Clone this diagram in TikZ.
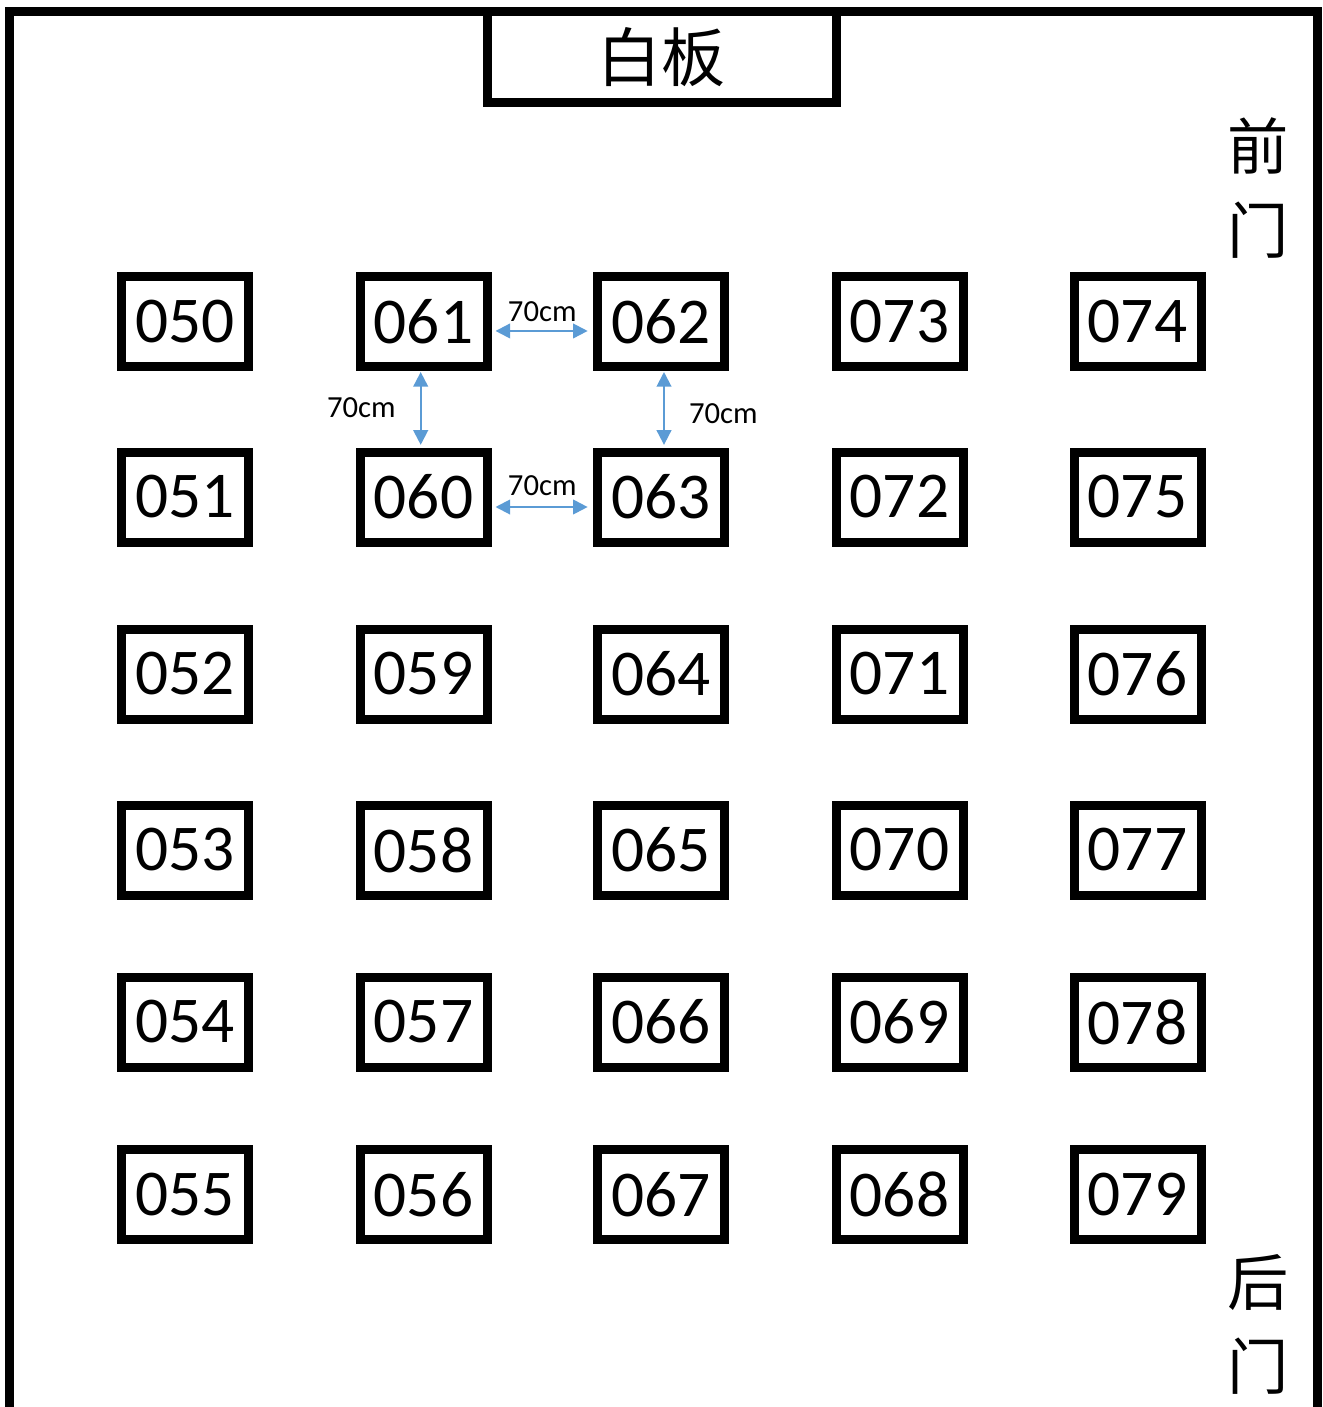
\documentclass[tikz,border=0pt]{standalone}
\usepackage{fontspec}
\setmainfont{Carlito}
\newfontfamily\cjk{Noto Sans CJK SC}
\usetikzlibrary{arrows.meta}
\definecolor{gapblue}{RGB}{91,155,213}

\begin{document}
\begin{tikzpicture}[x=0.75pt,y=-0.75pt,
    wall/.style={line width=6.75pt,line join=miter},
    seat/.style={draw,line width=6.75pt,rectangle,inner sep=0pt,
      minimum width=95.25pt,minimum height=67.5pt,font=\fontsize{49}{49}\selectfont},
    board/.style={draw,line width=6.75pt,rectangle,inner sep=0pt,
      minimum width=262.1pt,minimum height=68.25pt,font=\cjk\fontsize{48}{48}\selectfont},
    door/.style={align=center,inner sep=0pt,font=\cjk\fontsize{46}{63}\selectfont},
    gap/.style={gapblue,line width=1.5pt,{Triangle[length=11pt,width=11pt]}-{Triangle[length=11pt,width=11pt]}},
    gaplabel/.style={inner sep=0pt,black,font=\fontsize{23}{23}\selectfont}]
  \useasboundingbox (0,0) rectangle (1322,1407);

  % classroom walls
  \draw[wall] (9.5,1407) -- (9.5,11.5) -- (1317,11.5) -- (1317,1407);

  % whiteboard and doors
  \node[board] (whiteboard) at (661.75,57) {白板};
  \node[door] (frontdoor) at (1258,188) {前\\门};
  \node[door] (backdoor) at (1258,1324) {后\\门};

  % seats, numbered up and down the columns
  \foreach \x/\first/\dir in {185/50/1, 423.5/61/-1, 661/62/1, 899.5/73/-1, 1137.5/74/1}{
    \foreach \y [count=\r from 0] in {321.5,497,674,850,1022,1194.5}{
      \pgfmathtruncatemacro{\num}{\first+\dir*\r}
      \node[seat] (seat0\num) at (\x,\y) {0\num};
    }
  }

  % spacing between seats
  \draw[gap,shorten <=3pt,shorten >=4pt] ([yshift=-7.1pt]seat061.east) -- ([yshift=-7.1pt]seat062.west)
    node[gaplabel,midway,above=6pt] (gap6162) {70cm};
  \draw[gap,shorten <=3pt,shorten >=4pt] ([yshift=-7.5pt]seat060.east) -- ([yshift=-7.5pt]seat063.west)
    node[gaplabel,midway,above=7.5pt] (gap6063) {70cm};
  \draw[gap,shorten <=0.75pt,shorten >=2pt] ([xshift=-2.1pt]seat061.south) -- ([xshift=-2.1pt]seat060.north)
    node[gaplabel,midway,left=18pt,yshift=1.5pt] (gap6160) {70cm};
  \draw[gap,shorten <=0.75pt,shorten >=2pt] ([xshift=2.25pt]seat062.south) -- ([xshift=2.25pt]seat063.north)
    node[gaplabel,midway,right=18pt,yshift=-3.4pt] (gap6263) {70cm};
\end{tikzpicture}
\end{document}
